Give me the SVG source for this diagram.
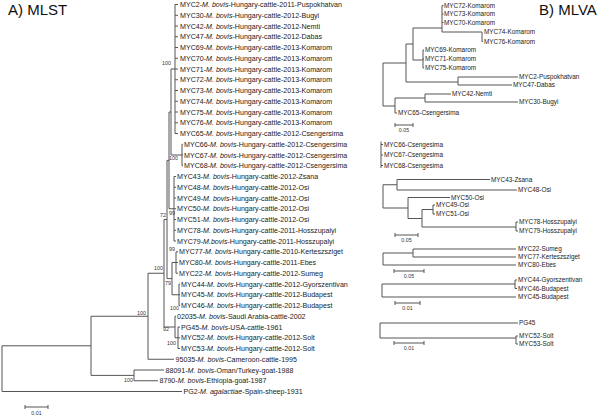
<svg xmlns="http://www.w3.org/2000/svg" width="600" height="417" viewBox="0 0 600 417">
<style>
text{font-family:"Liberation Sans",Arial,sans-serif;fill:#222}
.t{font-size:15px;fill:#111}
.l{font-size:7.1px}
.r{font-size:6.4px}
.b{font-size:5.3px;fill:#333}
.s{font-size:5.3px;fill:#333;text-anchor:middle}
.i{font-style:italic}
.c{fill:none;stroke:#555;stroke-width:1}
</style>
<rect width="600" height="417" fill="#fff"/>
<text class="t" x="8" y="15">A) MLST</text>
<text class="t" x="539" y="15">B) MLVA</text>

<g id="connectors">
<g id="mlst-branches">
<path class="c" d="M175,4.5V133.5M175,4.5H178M175,15.25H178M175,26H178M175,36.75H178M175,47.5H178M175,58.25H178M175,69H178M175,79.75H178M175,90.5H178M175,101.25H178M175,112H178M175,122.75H178M175,133.5H178M171,69H175"/>
<path class="c" d="M182,144.25V165.75M182,144.25H183M182,155H183M182,165.75H183M171,155H182"/>
<path class="c" d="M171,69V155M169,112H171"/>
<path class="c" d="M174,176.5V241M174,176.5H176M174,187.25H176M174,198H176M174,208.75H176M174,219.5H176M174,230.25H176M174,241H176M169,208.75H174"/>
<path class="c" d="M169,112V208.75M167,160.4H169"/>
<path class="c" d="M176,251.75V273.25M176,251.75H178M176,262.5H178M176,273.25H178M172,262.5H176"/>
<path class="c" d="M179,284V305.5M179,284H180M179,294.75H180M179,305.5H180M172,294.75H179"/>
<path class="c" d="M172,262.5V294.75M167,278.6H172"/>
<path class="c" d="M167,160.4V278.6M164,219.5H167"/>
<path class="c" d="M178,327V348.5M178,327H180M178,337.75H180M178,348.5H180M175,337.75H178"/>
<path class="c" d="M175,316.25V337.75M175,316.25H176M164,327H175"/>
<path class="c" d="M164,219.5V327M148,273.25H164"/>
<path class="c" d="M148,273.25V359.25M148,359.25H174M91,316.25H148"/>
<path class="c" d="M134,370V380.75M134,370H164M134,380.75H158M91,375.4H134"/>
<path class="c" d="M91,316.25V375.4M2,345.8H91"/>
<path class="c" d="M2,345.8V391.5M2,391.5H182"/>
<path class="c" d="M25,407H48M25,405V409M48,405V409"/>
</g>
<g id="mlva-branches">
<path class="c" d="M442,5.5V32M442,5.5H443.5M442,14H443.5M442,22.5H443.5M442,32H482M482,32V41.5M482,41.5H483M413,28H442"/>
<path class="c" d="M423,50V68M423,50H424M423,59H424M423,68H424M413,60H423"/>
<path class="c" d="M413,28V60M406,44H413"/>
<path class="c" d="M458,77V85M458,77H518M458,85H512M406,82H458"/>
<path class="c" d="M406,44V82M383,63H406"/>
<path class="c" d="M383,63V106M383,106H395"/>
<path class="c" d="M395,98V113M395,98H425M395,113H397"/>
<path class="c" d="M425,94V102M425,94H451M425,102H518"/>
<path class="c" d="M395,125H413M395,123V127M413,123V127"/>
<path class="c" d="M381,141.5V168M381,144.5H383M381,155H383M381,165.5H383"/>
<path class="c" d="M397,179.5V190M397,179.5H490M397,190H517"/>
<path class="c" d="M383,184.75V208M383,184.75H397M383,208H408"/>
<path class="c" d="M408,197.5V218.5M408,197.5H450M408,218.5H422"/>
<path class="c" d="M422,209.5V227M422,209.5H433M422,227H516"/>
<path class="c" d="M433,205V214M433,205H435M433,214H435"/>
<path class="c" d="M516,222V231M516,222H518M516,231H518"/>
<path class="c" d="M395,235H418M395,233V237M418,233V237"/>
<path class="c" d="M383,253V265M383,253H413M383,265H516"/>
<path class="c" d="M413,249V257M413,249H516M413,257H516"/>
<path class="c" d="M394,271H424M394,269V273M424,269V273"/>
<path class="c" d="M382,284V297M382,284H515M382,297H516"/>
<path class="c" d="M515,280V288.5M515,280H517M515,288.5H517"/>
<path class="c" d="M395,303H420M395,301V305M420,301V305"/>
<path class="c" d="M380,323V338M380,323H518M380,338H516"/>
<path class="c" d="M516,336V344M516,336H518M516,344H518"/>
<path class="c" d="M394,343H424M394,341V345M424,341V345"/>
</g>
</g>

<g id="bootstrap">
<text class="b" x="162" y="65">100</text>
<text class="b" x="169" y="160">100</text>
<text class="b" x="160" y="217">72</text>
<text class="b" x="169" y="215">99</text>
<text class="b" x="169" y="251">99</text>
<text class="b" x="154" y="270">100</text>
<text class="b" x="165" y="285">79</text>
<text class="b" x="170" y="310">100</text>
<text class="b" x="163" y="331">92</text>
<text class="b" x="167" y="345">100</text>
<text class="b" x="137" y="315">100</text>
<text class="b" x="124" y="382">100</text>
<text class="s" x="36.5" y="415">0.01</text>
<text class="s" x="404" y="132">0.05</text>
<text class="s" x="406.5" y="242">0.05</text>
<text class="s" x="409" y="278">0.05</text>
<text class="s" x="407.5" y="310">0.01</text>
<text class="s" x="409" y="350">0.01</text>
</g>

<g id="mlst-leaves">
<g id="L-MYC2"><text class="l" x="180" y="7">MYC2-<tspan class="i">M. bovis</tspan>-Hungary-cattle-2011-Puspokhatvan</text></g>
<g id="L-MYC30"><text class="l" x="180" y="17.75">MYC30-<tspan class="i">M. bovis</tspan>-Hungary-cattle-2012-Bugyi</text></g>
<g id="L-MYC42"><text class="l" x="180" y="28.5">MYC42-<tspan class="i">M. bovis</tspan>-Hungary-cattle-2012-Nemti</text></g>
<g id="L-MYC47"><text class="l" x="180" y="39.25">MYC47-<tspan class="i">M. bovis</tspan>-Hungary-cattle-2012-Dabas</text></g>
<g id="L-MYC69"><text class="l" x="180" y="50">MYC69-<tspan class="i">M. bovis</tspan>-Hungary-cattle-2013-Komarom</text></g>
<g id="L-MYC70"><text class="l" x="180" y="60.75">MYC70-<tspan class="i">M. bovis</tspan>-Hungary-cattle-2013-Komarom</text></g>
<g id="L-MYC71"><text class="l" x="180" y="71.5">MYC71-<tspan class="i">M. bovis</tspan>-Hungary-cattle-2013-Komarom</text></g>
<g id="L-MYC72"><text class="l" x="180" y="82.25">MYC72-<tspan class="i">M. bovis</tspan>-Hungary-cattle-2013-Komarom</text></g>
<g id="L-MYC73"><text class="l" x="180" y="93">MYC73-<tspan class="i">M. bovis</tspan>-Hungary-cattle-2013-Komarom</text></g>
<g id="L-MYC74"><text class="l" x="180" y="103.75">MYC74-<tspan class="i">M. bovis</tspan>-Hungary-cattle-2013-Komarom</text></g>
<g id="L-MYC75"><text class="l" x="180" y="114.5">MYC75-<tspan class="i">M. bovis</tspan>-Hungary-cattle-2013-Komarom</text></g>
<g id="L-MYC76"><text class="l" x="180" y="125.25">MYC76-<tspan class="i">M. bovis</tspan>-Hungary-cattle-2013-Komarom</text></g>
<g id="L-MYC65"><text class="l" x="180" y="136">MYC65-<tspan class="i">M. bovis</tspan>-Hungary-cattle-2012-Csengersima</text></g>
<g id="L-MYC66"><text class="l" x="184" y="146.75">MYC66-<tspan class="i">M. bovis</tspan>-Hungary-cattle-2012-Csengersima</text></g>
<g id="L-MYC67"><text class="l" x="184" y="157.5">MYC67-<tspan class="i">M. bovis</tspan>-Hungary-cattle-2012-Csengersima</text></g>
<g id="L-MYC68"><text class="l" x="184" y="168.25">MYC68-<tspan class="i">M. bovis</tspan>-Hungary-cattle-2012-Csengersima</text></g>
<g id="L-MYC43"><text class="l" x="177" y="179">MYC43-<tspan class="i">M. bovis</tspan>-Hungary-cattle-2012-Zsana</text></g>
<g id="L-MYC48"><text class="l" x="177" y="189.75">MYC48-<tspan class="i">M. bovis</tspan>-Hungary-cattle-2012-Osi</text></g>
<g id="L-MYC49"><text class="l" x="177" y="200.5">MYC49-<tspan class="i">M. bovis</tspan>-Hungary-cattle-2012-Osi</text></g>
<g id="L-MYC50"><text class="l" x="177" y="211.25">MYC50-<tspan class="i">M. bovis</tspan>-Hungary-cattle-2012-Osi</text></g>
<g id="L-MYC51"><text class="l" x="177" y="222">MYC51-<tspan class="i">M. bovis</tspan>-Hungary-cattle-2012-Osi</text></g>
<g id="L-MYC78"><text class="l" x="177" y="232.75">MYC78-<tspan class="i">M. bovis</tspan>-Hungary-cattle-2011-Hosszupalyi</text></g>
<g id="L-MYC79"><text class="l" x="177" y="243.5">MYC79-<tspan class="i">M.bovis</tspan>-Hungary-cattle-2011-Hosszupalyi</text></g>
<g id="L-MYC77"><text class="l" x="179" y="254.25">MYC77-<tspan class="i">M. bovis</tspan>-Hungary-cattle-2010-Kerteszsziget</text></g>
<g id="L-MYC80"><text class="l" x="179" y="265">MYC80-<tspan class="i">M. bovis</tspan>-Hungary-cattle-2011-Ebes</text></g>
<g id="L-MYC22"><text class="l" x="179" y="275.75">MYC22-<tspan class="i">M. bovis</tspan>-Hungary-cattle-2012-Sumeg</text></g>
<g id="L-MYC44"><text class="l" x="181" y="286.5">MYC44-<tspan class="i">M. bovis</tspan>-Hungary-cattle-2012-Gyorszentivan</text></g>
<g id="L-MYC45"><text class="l" x="181" y="297.25">MYC45-<tspan class="i">M. bovis</tspan>-Hungary-cattle-2012-Budapest</text></g>
<g id="L-MYC46"><text class="l" x="181" y="308">MYC46-<tspan class="i">M. bovis</tspan>-Hungary-cattle-2012-Budapest</text></g>
<g id="L-02035"><text class="l" x="177" y="318.75">02035-<tspan class="i">M. bovis</tspan>-Saudi Arabia-cattle-2002</text></g>
<g id="L-PG45"><text class="l" x="181" y="329.5">PG45-<tspan class="i">M. bovis</tspan>-USA-cattle-1961</text></g>
<g id="L-MYC52"><text class="l" x="181" y="340.25">MYC52-<tspan class="i">M. bovis</tspan>-Hungary-cattle-2012-Solt</text></g>
<g id="L-MYC53"><text class="l" x="181" y="351">MYC53-<tspan class="i">M. bovis</tspan>-Hungary-cattle-2012-Solt</text></g>
<g id="L-95035"><text class="l" x="175.5" y="361.75">95035-<tspan class="i">M. bovis</tspan>-Cameroon-cattle-1995</text></g>
<g id="L-88091"><text class="l" x="165.5" y="372.5">88091-<tspan class="i">M. bovis</tspan>-Oman/Turkey-goat-1988</text></g>
<g id="L-8790"><text class="l" x="159.5" y="383.25">8790-<tspan class="i">M. bovis</tspan>-Ethiopia-goat-1987</text></g>
<g id="L-PG2"><text class="l" x="183.5" y="394">PG2-<tspan class="i">M. agalactiae</tspan>-Spain-sheep-1931</text></g>
</g>

<g id="mlva-leaves">
<g id="R-MYC72"><text class="r" x="444" y="7.8">MYC72-Komarom</text></g>
<g id="R-MYC73"><text class="r" x="444" y="16.3">MYC73-Komarom</text></g>
<g id="R-MYC70"><text class="r" x="444" y="24.8">MYC70-Komarom</text></g>
<g id="R-MYC74"><text class="r" x="484" y="34.3">MYC74-Komarom</text></g>
<g id="R-MYC76"><text class="r" x="484" y="43.8">MYC76-Komarom</text></g>
<g id="R-MYC69"><text class="r" x="425" y="52.3">MYC69-Komarom</text></g>
<g id="R-MYC71"><text class="r" x="425" y="61.3">MYC71-Komarom</text></g>
<g id="R-MYC75"><text class="r" x="425" y="70.3">MYC75-Komarom</text></g>
<g id="R-MYC2"><text class="r" x="519" y="79.3">MYC2-Puspokhatvan</text></g>
<g id="R-MYC47"><text class="r" x="513" y="87.3">MYC47-Dabas</text></g>
<g id="R-MYC42"><text class="r" x="452" y="96.3">MYC42-Nemti</text></g>
<g id="R-MYC30"><text class="r" x="519" y="104.3">MYC30-Bugyi</text></g>
<g id="R-MYC65"><text class="r" x="398" y="115.3">MYC65-Csengersima</text></g>
<g id="R-MYC66"><text class="r" x="384" y="146.8">MYC66-Csengesima</text></g>
<g id="R-MYC67"><text class="r" x="384" y="157.3">MYC67-Csengesima</text></g>
<g id="R-MYC68"><text class="r" x="384" y="167.8">MYC68-Csengesima</text></g>
<g id="R-MYC43"><text class="r" x="491" y="181.8">MYC43-Zsana</text></g>
<g id="R-MYC48"><text class="r" x="518" y="192.3">MYC48-Osi</text></g>
<g id="R-MYC50"><text class="r" x="451" y="199.8">MYC50-Osi</text></g>
<g id="R-MYC49"><text class="r" x="436" y="207.3">MYC49-Osi</text></g>
<g id="R-MYC51"><text class="r" x="436" y="216.3">MYC51-Osi</text></g>
<g id="R-MYC78"><text class="r" x="519" y="224.3">MYC78-Hosszupalyi</text></g>
<g id="R-MYC79"><text class="r" x="519" y="233.3">MYC79-Hosszupalyi</text></g>
<g id="R-MYC22"><text class="r" x="518" y="251.3">MYC22-Sumeg</text></g>
<g id="R-MYC77"><text class="r" x="518" y="259.3">MYC77-Kerteszsziget</text></g>
<g id="R-MYC80"><text class="r" x="518" y="267.3">MYC80-Ebes</text></g>
<g id="R-MYC44"><text class="r" x="518" y="282.3">MYC44-Gyorszentivan</text></g>
<g id="R-MYC46"><text class="r" x="518" y="290.8">MYC46-Budapest</text></g>
<g id="R-MYC45"><text class="r" x="518" y="299.3">MYC45-Budapest</text></g>
<g id="R-PG45"><text class="r" x="519" y="324.8">PG45</text></g>
<g id="R-MYC52"><text class="r" x="519" y="338.3">MYC52-Solt</text></g>
<g id="R-MYC53"><text class="r" x="519" y="346.3">MYC53-Solt</text></g>
</g>
</svg>
